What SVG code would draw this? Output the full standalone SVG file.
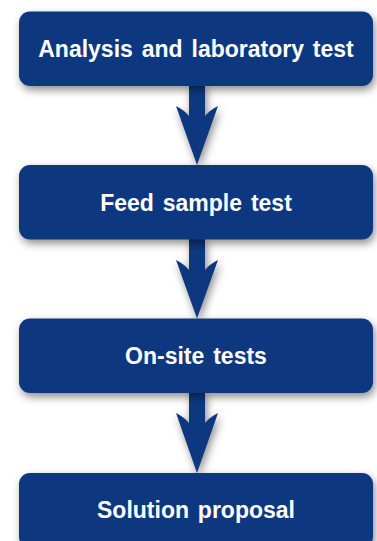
<svg xmlns="http://www.w3.org/2000/svg" width="377" height="541" viewBox="0 0 377 541">
<defs>
<filter id="sh" x="-20%" y="-30%" width="140%" height="170%">
<feDropShadow dx="2" dy="4" stdDeviation="4" flood-color="#000" flood-opacity="0.45"/>
</filter>
<style>
.box{fill:#0b377f;filter:url(#sh)}
.lbl{fill:#fff;font-family:"Liberation Sans",Arial,sans-serif;font-weight:bold;font-size:23px;text-anchor:middle;word-spacing:2.5px}
.arr{fill:#0b377f;filter:url(#sh)}
</style>
</defs>
<rect width="377" height="541" fill="#fff"/>
<g id="connectors">
<path class="arr" d="M189,84 L205,84 L205,116 Q210,110 218,106 L197,165 L176,106 Q184,110 189,116 Z"/>
<path class="arr" d="M189,238 L205,238 L205,270 Q210,264 218,260 L197,318.5 L176,260 Q184,264 189,270 Z"/>
<path class="arr" d="M189,391 L205,391 L205,423 Q210,417 218,413 L197,473 L176,413 Q184,417 189,423 Z"/>
</g>
<g id="n1"><rect class="box" x="19" y="11.5" width="354" height="74.5" rx="11"/><text class="lbl" x="196" y="56.5">Analysis and laboratory test</text></g>
<g id="n2"><rect class="box" x="19" y="165" width="354" height="74.5" rx="11"/><text class="lbl" x="196" y="210.5">Feed sample test</text></g>
<g id="n3"><rect class="box" x="19" y="318.5" width="354" height="74.5" rx="11"/><text class="lbl" x="196" y="364">On-site tests</text></g>
<g id="n4"><rect class="box" x="19" y="473" width="354" height="74.5" rx="11"/><text class="lbl" x="196" y="518">Solution proposal</text></g>
</svg>
